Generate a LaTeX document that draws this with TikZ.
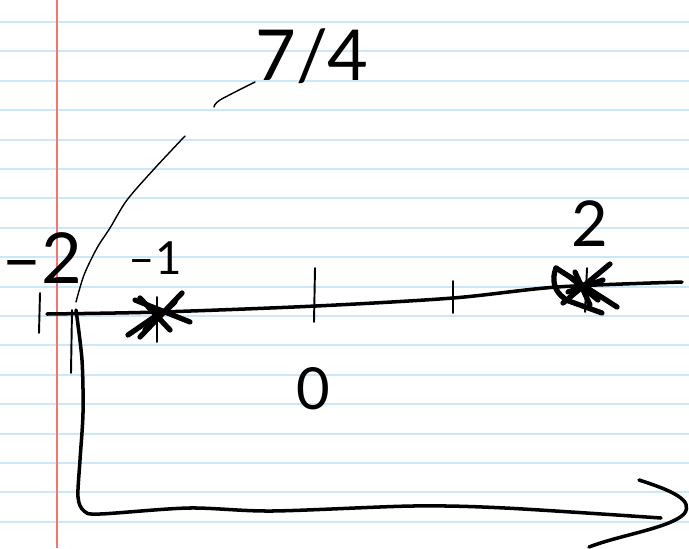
\documentclass[tikz,border=0pt]{standalone}
\usepackage{fontspec}
\setmainfont{Lato}
\usepackage{tikz}
\definecolor{ruleblue}{RGB}{204,232,248}
\definecolor{marginred}{RGB}{240,118,118}

\begin{document}
\begin{tikzpicture}[x=0.02cm, y=-0.02cm,
  ruled/.style={ruleblue, line width=1.1pt},
  margin/.style={marginred, line width=1.1pt},
  axisline/.style={line width=2pt, line cap=round, line join=round},
  pen/.style={line width=0.8pt, line cap=round},
  tickmark/.style={line width=1.1pt, line cap=round},
  starstroke/.style={line width=3pt, line cap=round},
  hand/.style={inner sep=0pt, font=\fontsize{#1}{#1}\selectfont}
]
\useasboundingbox[fill=white] (0,0) rectangle (689,548);
% paper: ruled lines and margin
\foreach \k in {0,...,17}
  \draw[ruled] (0,22+29.4*\k) -- (689,22+29.4*\k);
\draw[margin] (57,0) -- (57,548);

% number line with ticks
\draw[axisline] plot[smooth] coordinates {(47,314) (160,312) (316,306) (453,298) (557,287) (682,282)};
\coordinate (tickzero) at (315,306);
\coordinate (tickone) at (453,298);
\draw[tickmark] (tickzero) ++(0,-38) -- ++(-1,54);
\draw[tickmark] (tickone) ++(0,-17) -- ++(0,32);
\draw[tickmark] (40,293) -- (39,333);
\draw[tickmark] (72,310) -- (71,373);
\draw[pen] (77,318) -- (78,332);

% crosses at -1 and 2
\coordinate (starA) at (160,313);
\draw[starstroke] (135,300) -- (190,322);
\draw[starstroke] (182,293) -- (140,337);
\draw[starstroke] (128,335) -- (160,313);
\draw[starstroke] (140,298) -- (170,330);
\draw[starstroke] (145,330) -- (175,302);
\draw[tickmark] (157,297) -- (157,342);
\coordinate (starB) at (585,288);
\draw[starstroke] (556,268) -- (617,307);
\draw[starstroke] (610,264) -- (563,303);
\draw[starstroke] (566,300) -- (602,313);
\draw[starstroke] (570,277) -- (598,300);
\draw[starstroke] (568,292) -- (603,280);
\draw[starstroke] (575,272) -- (590,305);
\draw[tickmark] (587,268) -- (585,312);
\draw[starstroke] (556,268) .. controls (551,280) and (555,292) .. (564,298);

% curve up towards 7/4
\draw[pen] plot[smooth] coordinates {(76,302) (84,275) (97,248) (110,228) (127,200) (155,168) (185,136)};
\draw[pen] plot[smooth] coordinates {(214,107) (220,100) (255,82)};

% labels
\node[hand=40] (lblmtwo) at (42,258) {–2};
\node[hand=26] (lblmone) at (155,258) {–1};
\node[hand=33] (lblzero) at (313,389) {0};
\node[hand=36] (lbltwo) at (590,224) {2};
\node[hand=40] (lblfrac) at (312,56) {7/4};

% bent arrow below
\draw[axisline] plot[smooth] coordinates {(76,310) (82,360) (83,413) (80,460) (78,497) (84,511) (100,514) (189,508) (272,511) (413,506) (505,508) (661,518)};
\draw[axisline] (639,480) .. controls (670,490) and (695,500) .. (684,514) .. controls (670,528) and (620,535) .. (589,547);
\end{tikzpicture}
\end{document}
